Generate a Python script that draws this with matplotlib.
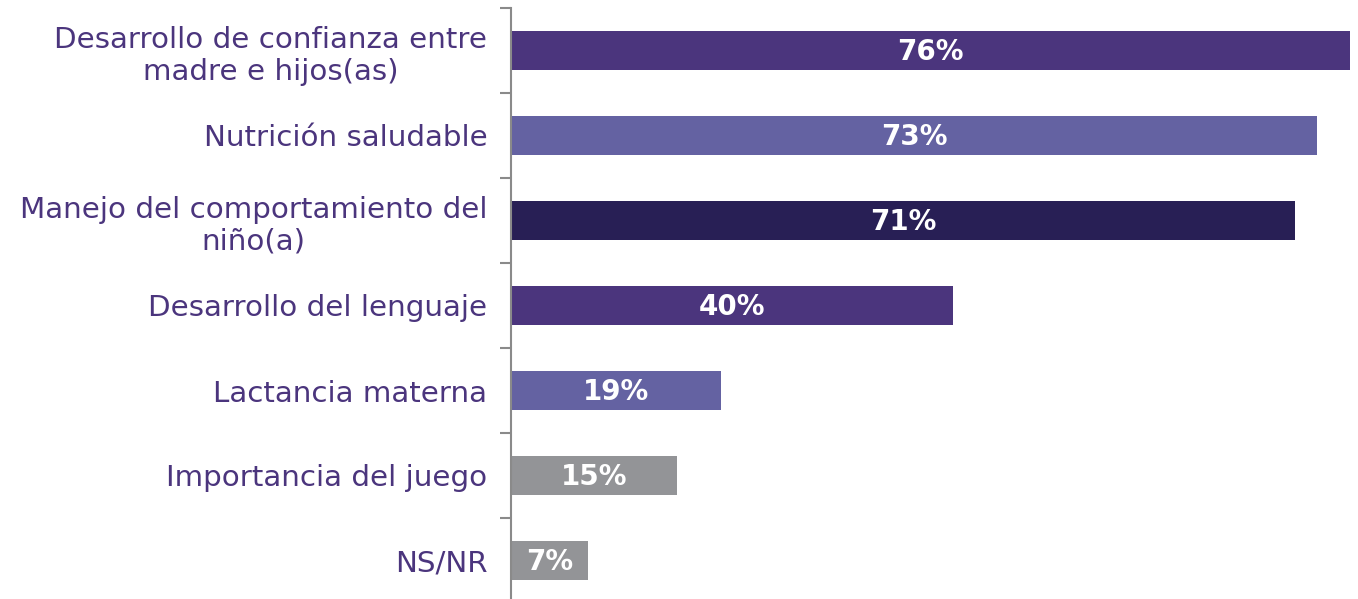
import matplotlib
matplotlib.use("Agg")
import matplotlib.pyplot as plt
import numpy as np

categories = [
    "Desarrollo de confianza entre\nmadre e hijos(as)",
    "Nutrición saludable",
    "Manejo del comportamiento del\nniño(a)",
    "Desarrollo del lenguaje",
    "Lactancia materna",
    "Importancia del juego",
    "NS/NR",
]
values = [76, 73, 71, 40, 19, 15, 7]
value_labels = ["76%", "73%", "71%", "40%", "19%", "15%", "7%"]
colors = ["#4B357D", "#6462A2", "#281F55", "#4B357D", "#6462A2", "#939497", "#939497"]

W, H = 1358, 599
fig = plt.figure(figsize=(W / 100, H / 100), dpi=100)
ax = fig.add_axes([511 / W, -4 / H, 1 - 511 / W, 595 / H])

y = np.arange(len(categories))
ax.barh(y, values, height=0.46, color=colors, zorder=2)

for yi, v, lab in zip(y, values, value_labels):
    ax.text(v / 2, yi + 0.02, lab, ha="center", va="center", color="white",
            fontsize=20, fontweight="bold", family="DejaVu Sans")

ax.set_ylim(len(categories) - 0.5, -0.5)
ax.set_xlim(0, 76.72)

ax.set_yticks(y)
ax.set_yticklabels(categories, fontsize=21.2, color="#4B357D",
                   linespacing=1.2)
ax.tick_params(axis="y", which="major", length=0, pad=17)
for t in ax.get_yticklabels():
    t.set_multialignment("center")

ax.set_yticks(np.arange(-0.5, len(categories) + 0.5, 1), minor=True)
ax.tick_params(axis="y", which="minor", length=8, width=1.5, color="#8A8A8A")

ax.set_xticks([])
for s in ["top", "right", "bottom"]:
    ax.spines[s].set_visible(False)
ax.spines["left"].set_color("#8A8A8A")
ax.spines["left"].set_linewidth(1.5)

fig.savefig("out.png", dpi=100)
